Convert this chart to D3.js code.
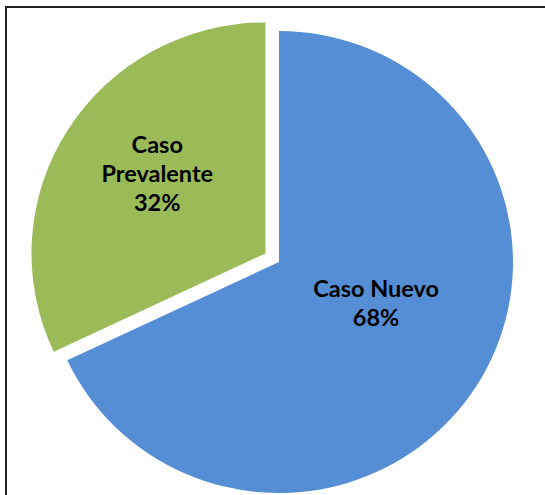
<!DOCTYPE html>
<html>
<head>
<meta charset="utf-8">
<script src="https://cdn.jsdelivr.net/npm/d3@7"></script>
<style>
  html, body { margin: 0; padding: 0; background: #fff; }
  svg { display: block; }
</style>
</head>
<body>
<svg id="chart" width="545" height="495"></svg>
<script>
// Case type shares
const categories = ["Caso Nuevo", "Caso Prevalente"];
const values = [68, 32];
const labelLines = [["Caso Nuevo", "68%"], ["Caso", "Prevalente", "32%"]];
const colors = ["#558ED5", "#9BBB59"];
const exploded = [false, true];

const W = 545, H = 495;
const cx = 279, cy = 262, R = 231, explode = 16;
const xStretch = 1.013; // plot area is a touch wider than tall

const svg = d3.select("#chart");

// chart frame (top and left edges visible)
svg.append("rect")
  .attr("x", 6).attr("y", 7)
  .attr("width", W + 20).attr("height", H + 20)
  .attr("fill", "none")
  .attr("stroke", "#222")
  .attr("stroke-width", 2);

const pie = d3.pie().sort(null).value(d => d)
  .startAngle(0).endAngle(2 * Math.PI);
const arcs = pie(values);
const arc = d3.arc().innerRadius(0).outerRadius(R);

const g = svg.append("g").attr("transform", `translate(${cx},${cy})`);

const slice = g.selectAll("g.slice").data(arcs).join("g")
  .attr("class", "slice")
  .attr("transform", (d, i) => {
    if (!exploded[i]) return null;
    const mid = (d.startAngle + d.endAngle) / 2;
    return `translate(${explode * Math.sin(mid)},${-explode * Math.cos(mid)})`;
  });

slice.append("path")
  .attr("d", arc)
  .attr("transform", `scale(${xStretch},1)`)
  .attr("fill", (d, i) => colors[i]);

// in-slice labels: radial position (fraction of R) and vertical nudge
const labelPos = [
  { r: 0.498, dy: -12, lineH: 29 },
  { r: 0.555, dy: -3, lineH: 29 }
];

slice.each(function(d, i) {
  const mid = (d.startAngle + d.endAngle) / 2;
  const lr = R * labelPos[i].r;
  const x = lr * Math.sin(mid);
  const y = -lr * Math.cos(mid) + labelPos[i].dy;
  const lines = labelLines[i];
  const lh = labelPos[i].lineH;
  const t = d3.select(this).append("text")
    .attr("text-anchor", "middle")
    .attr("font-family", "Lato, 'Open Sans', sans-serif")
    .attr("font-weight", "bold")
    .attr("font-size", 23.5)
    .attr("fill", "#000");
  lines.forEach((ln, k) => {
    t.append("tspan")
      .attr("x", x)
      .attr("y", y + (k - (lines.length - 1) / 2) * lh)
      .text(ln);
  });
});
</script>
</body>
</html>
